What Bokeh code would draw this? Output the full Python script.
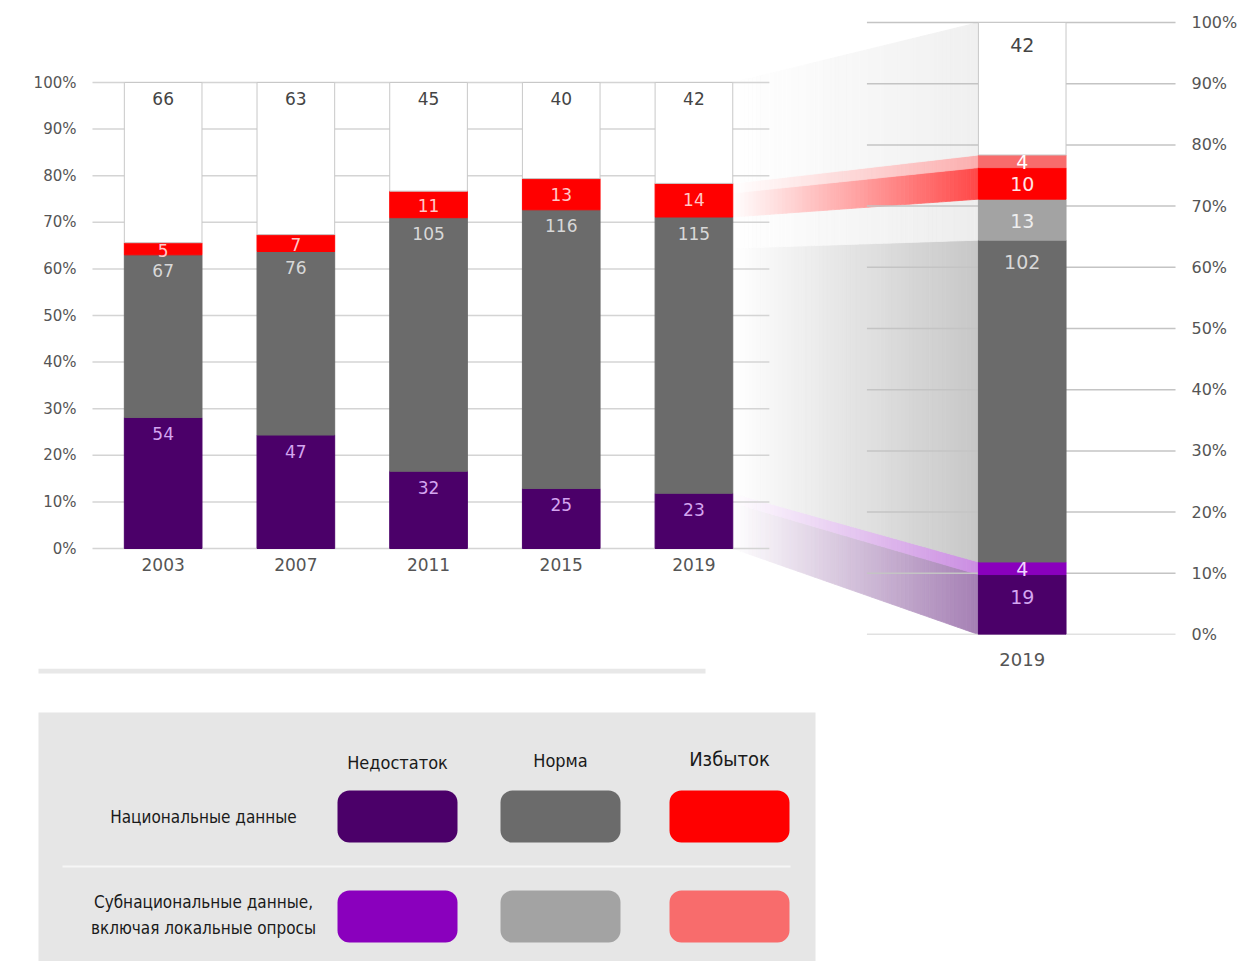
import numpy as np
from bokeh.plotting import figure
from bokeh.models import (Range1d, LinearAxis, FixedTicker, PrintfTickFormatter,
                          CustomJSTickFormatter, ColumnDataSource)
from bokeh.embed import file_html
from bokeh.resources import INLINE
from bokeh.core.properties import value

# ---------------- data ----------------
years = ["2003", "2007", "2011", "2015", "2019"]
national_deficit = [54, 47, 32, 25, 23]
national_norm = [67, 76, 105, 116, 115]
national_excess = [5, 7, 11, 13, 14]
no_data = [66, 63, 45, 40, 42]

detail_year = "2019"
# bottom -> top: deficit nat, deficit subnat, norm nat, norm subnat, excess nat, excess subnat, no data
detail_values = [19, 4, 102, 13, 10, 4, 42]

pct_ticks = [0, 10, 20, 30, 40, 50, 60, 70, 80, 90, 100]
legend_columns = ["Недостаток", "Норма", "Избыток"]
legend_rows = ["Национальные данные", "Субнациональные данные,\nвключая локальные опросы"]

# ---------------- style ----------------
COL_NAT = ["#4b0069", "#6b6b6b", "#ff0000"]
COL_SUB = ["#8a00bd", "#a3a3a3", "#f86c6c"]
WHITE = "#ffffff"
BORDER = "#c8c8c8"
NUM_FONT = value("DejaVu Sans")
LEG_FONT = value("DejaVu Sans Condensed")

# layout constants (pixels)
W, H1, H2 = 1240, 668, 293
FRAME_L, FRAME_R, FRAME_T, FRAME_B = 88, 1185, 10, 634
X_FIRST_PX, X_STEP_PX = 163.0, 133.3
L_Y0_PX, L_Y100_PX = 548.0, 82.0
R_Y0_PX, R_Y100_PX = 634.0, 22.0
BAR_W = 78 / X_STEP_PX
BAR_W_R = 88 / X_STEP_PX


def px_to_x(px):
    return (px - X_FIRST_PX) / X_STEP_PX


L_UPX = (L_Y0_PX - L_Y100_PX) / 100.0
R_UPX = (R_Y0_PX - R_Y100_PX) / 100.0
YL0 = -(FRAME_B - L_Y0_PX) / L_UPX
YL1 = 100 + (L_Y100_PX - FRAME_T) / L_UPX
YR0 = -(FRAME_B - R_Y0_PX) / R_UPX
YR1 = 100 + (R_Y100_PX - FRAME_T) / R_UPX
XR = px_to_x(1026)


def right_to_left(v):
    return YL0 + (v - YR0) / (YR1 - YR0) * (YL1 - YL0)


def tint(hex_color, a):
    h = hex_color.lstrip("#")
    rgb = [int(h[i:i + 2], 16) for i in (0, 2, 4)]
    mixed = [int(round(255 + (c - 255) * a)) for c in rgb]
    return "#%02x%02x%02x" % tuple(mixed)


# ---------------- main figure ----------------
p = figure(width=W, height=H1, x_range=Range1d(px_to_x(FRAME_L), px_to_x(FRAME_R)),
           y_range=Range1d(YL0, YL1), output_backend="svg", toolbar_location=None,
           min_border_left=FRAME_L, min_border_right=W - FRAME_R,
           min_border_top=FRAME_T, min_border_bottom=H1 - FRAME_B)
p.extra_y_ranges = {"right": Range1d(YR0, YR1)}
p.outline_line_color = None
p.grid.visible = False

# left axis
ya = p.yaxis[0]
ya.ticker = FixedTicker(ticks=pct_ticks)
ya.formatter = PrintfTickFormatter(format="%d%%")
ya.axis_line_color = None
ya.major_tick_line_color = None
ya.minor_tick_line_color = None
ya.major_label_text_font = "DejaVu Sans"
ya.major_label_text_font_size = "15px"
ya.major_label_text_color = "#555555"
ya.major_label_standoff = 6

# right axis
yr = LinearAxis(y_range_name="right", ticker=FixedTicker(ticks=pct_ticks),
                formatter=PrintfTickFormatter(format="%d%%"))
yr.axis_line_color = None
yr.major_tick_line_color = None
yr.minor_tick_line_color = None
yr.major_label_text_font = "DejaVu Sans"
yr.major_label_text_font_size = "16px"
yr.major_label_text_color = "#555555"
yr.major_label_standoff = 5
p.add_layout(yr, "right")

# bottom axis for detail bar
xa = p.xaxis[0]
xa.ticker = FixedTicker(ticks=[XR])
xa.formatter = CustomJSTickFormatter(code="return '%s';" % detail_year)
xa.axis_line_color = None
xa.major_tick_line_color = None
xa.minor_tick_line_color = None
xa.major_label_text_font = "DejaVu Sans"
xa.major_label_text_font_size = "18px"
xa.major_label_text_color = "#555555"
xa.major_label_standoff = 12

# stacked data
counts = np.array([national_deficit, national_norm, national_excess, no_data], dtype=float)
pct = counts / counts.sum(axis=0) * 100
dvals = np.array(detail_values, dtype=float)
dpct = dvals / dvals.sum() * 100
dcum = np.concatenate([[0], np.cumsum(dpct)])

# funnel: opaque slices tinted from white (left) to colour (right)
x_left = (len(years) - 1) + BAR_W / 2
x_right = XR - BAR_W_R / 2
funnel_colors = [COL_NAT[0], COL_SUB[0], COL_NAT[1], COL_SUB[1], COL_NAT[2], COL_SUB[2], "#cccccc"]
funnel_alpha = [0.5, 0.45, 0.38, 0.2, 0.72, 0.55, 0.3]
NS = 60
fx, fy, fc = [], [], []
for i in range(len(detail_values)):
    bL, tL = dcum[i], dcum[i + 1]
    bR, tR = right_to_left(dcum[i]), right_to_left(dcum[i + 1])
    for k in range(NS):
        f0, f1 = k / NS, (k + 1) / NS
        xa0 = x_left + f0 * (x_right - x_left)
        xa1 = x_left + f1 * (x_right - x_left)
        fx.append([xa0, xa1, xa1, xa0])
        fy.append([bL + f0 * (bR - bL), bL + f1 * (bR - bL),
                   tL + f1 * (tR - tL), tL + f0 * (tR - tL)])
        fc.append(tint(funnel_colors[i], funnel_alpha[i] * (f0 + f1) / 2))
p.patches(fx, fy, fill_color=fc, line_color=fc, line_width=0.8)

# left gridlines
n = len(pct_ticks)
p.segment(x0=[px_to_x(92)] * n, x1=[px_to_x(772)] * n, y0=pct_ticks, y1=pct_ticks,
          line_color="#d4d4d4", line_width=1.5)

# right gridlines
p.segment(x0=[px_to_x(870)] * n, x1=[px_to_x(1180)] * n, y0=pct_ticks, y1=pct_ticks,
          line_color="#c4c4c4", line_width=1.5, y_range_name="right")

# left stacked bars
xpos = list(range(len(years)))
src = ColumnDataSource(dict(x=xpos, **{"s%d" % i: pct[i] for i in range(4)}))
p.vbar_stack(["s%d" % i for i in range(4)], x="x", width=BAR_W, source=src,
             fill_color=[COL_NAT[0], COL_NAT[1], COL_NAT[2], WHITE],
             line_color=[COL_NAT[0], COL_NAT[1], COL_NAT[2], BORDER], line_width=1)

# detail stacked bar
rsrc = ColumnDataSource(dict(x=[XR], **{"r%d" % i: [dpct[i]] for i in range(len(dpct))}))
p.vbar_stack(["r%d" % i for i in range(len(dpct))], x="x", width=BAR_W_R, source=rsrc,
             fill_color=[COL_NAT[0], COL_SUB[0], COL_NAT[1], COL_SUB[1], COL_NAT[2], COL_SUB[2], WHITE],
             line_color=[COL_NAT[0], COL_SUB[0], COL_NAT[1], COL_SUB[1], COL_NAT[2], COL_SUB[2], BORDER],
             line_width=1, y_range_name="right")

# value labels, left bars
lab_cols = ["#d4a6f0", "#d8d8d8", "#ffc8c8", "#444444"]
lx, ly, lt, lc = [], [], [], []
cum = np.vstack([np.zeros(len(years)), np.cumsum(pct, axis=0)])
for s in range(4):
    for j in range(len(years)):
        top = cum[s + 1, j]
        hpx = pct[s, j] * L_UPX
        off = min(hpx / 2 + 1.5, 16)
        lx.append(xpos[j])
        ly.append(top - off / L_UPX)
        lt.append(str(int(counts[s, j])))
        lc.append(lab_cols[s])
p.text(x=lx, y=ly, text=lt, text_color=lc, text_align="center", text_baseline="middle",
       text_font=NUM_FONT, text_font_size="17px")

# year labels, left chart
p.text(x=xpos, y=[-16 / L_UPX] * len(years), text=years, text_align="center",
       text_baseline="middle", text_font=NUM_FONT, text_font_size="17px", text_color="#555555")

# value labels, detail bar
rlab_cols = ["#d4a6f0", "#f0d4ff", "#d8d8d8", "#eeeeee", "#ffe4e4", "#ffffff", "#444444"]
rx, ry, rt = [], [], []
for i in range(len(detail_values)):
    hpx = dpct[i] * R_UPX
    off = min(hpx / 2 + 1, 22)
    rx.append(XR)
    ry.append(dcum[i + 1] - off / R_UPX)
    rt.append(str(detail_values[i]))
p.text(x=rx, y=ry, text=rt, text_color=rlab_cols, text_align="center", text_baseline="middle",
       text_font=NUM_FONT, text_font_size="19px", y_range_name="right")

# ---------------- legend figure ----------------
p2 = figure(width=W, height=H2, x_range=Range1d(0, W), y_range=Range1d(H2, 0),
            output_backend="svg", toolbar_location=None, min_border=0,
            x_axis_location=None, y_axis_location=None)
p2.outline_line_color = None
p2.grid.visible = False

p2.quad(left=[38], right=[705], top=[0], bottom=[5], fill_color="#e8e8e8", line_color=None)
p2.quad(left=[38], right=[815], top=[44], bottom=[H2], fill_color="#e6e6e6", line_color=None)
p2.segment(x0=[62], x1=[790], y0=[198], y1=[198], line_color="#f6f6f6", line_width=2)

col_x = [397, 560, 729]
p2.text(x=col_x[:2], y=[94, 92], text=legend_columns[:2], text_align="center",
        text_baseline="middle", text_font=LEG_FONT, text_font_size="18px", text_color="#1a1a1a")
p2.text(x=col_x[2:], y=[90], text=legend_columns[2:], text_align="center",
        text_baseline="middle", text_font=LEG_FONT, text_font_size="20px", text_color="#1a1a1a")
p2.text(x=[203, 203], y=[148, 246], text=legend_rows, text_align="center",
        text_baseline="middle", text_font=LEG_FONT, text_font_size="17px", text_color="#1a1a1a",
        text_line_height=1.3)

sw_left = [c - 60 for c in col_x]
sw_right = [c + 60 for c in col_x]
p2.quad(left=sw_left, right=sw_right, top=[122] * 3, bottom=[174] * 3,
        fill_color=COL_NAT, line_color=None, border_radius=12)
p2.quad(left=sw_left, right=sw_right, top=[222] * 3, bottom=[274] * 3,
        fill_color=COL_SUB, line_color=None, border_radius=12)

open("out.html", "w").write(file_html([p, p2], INLINE))
